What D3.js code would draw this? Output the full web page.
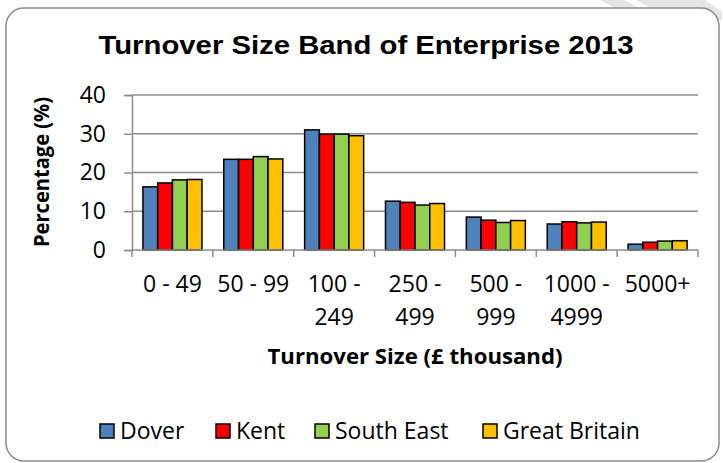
<!DOCTYPE html>
<html><head><meta charset="utf-8">
<script src="https://cdn.jsdelivr.net/npm/d3@7"></script>
<style>body{margin:0;background:#fff;overflow:hidden}</style></head>
<body><svg id="c" width="723" height="463"></svg>
<script>
const categories = ["0 - 49","50 - 99","100 - 249","250 - 499","500 - 999","1000 - 4999","5000+"];
const seriesNames = ["Dover","Kent","South East","Great Britain"];
const dover = [16.3, 23.4, 31.0, 12.6, 8.5, 6.7, 1.5];
const kent = [17.3, 23.4, 29.9, 12.3, 7.7, 7.3, 2.0];
const southEast = [18.1, 24.1, 29.9, 11.6, 7.1, 7.0, 2.3];
const greatBritain = [18.2, 23.5, 29.5, 12.0, 7.6, 7.2, 2.4];
const yTicks = [0, 10, 20, 30, 40];
const colors = ["#4F81BD","#FF0000","#92D050","#FFC000"];
const seriesValues = [dover, kent, southEast, greatBritain];

const svg = d3.select("#c");
const font = "'Open Sans', sans-serif";

// background decoration stripes
svg.append("path").attr("d","M600,0 L624,0 L650,14 L626,14 Z").attr("fill","#e4e4e4");
svg.append("path").attr("d","M636,0 L705,0 L722,12 L722,20 L660,14 Z").attr("fill","#e4e4e4");

// frame
svg.append("rect").attr("x",6).attr("y",8).attr("width",713).attr("height",453)
  .attr("rx",18).attr("fill","#fff").attr("stroke","#8c8c8c").attr("stroke-width",1.5);

const x = d3.scaleBand().domain(categories).range([132, 698]).paddingInner(0.27).paddingOuter(0.135);
const x1 = d3.scaleBand().domain(seriesNames).range([0, x.bandwidth()]);
const y = d3.scaleLinear().domain([0, 40]).range([250, 95]);

// gridlines
svg.append("g").selectAll("line").data(yTicks.filter(d=>d>0)).join("line")
  .attr("x1",132).attr("x2",698).attr("y1",d=>y(d)).attr("y2",d=>y(d))
  .attr("stroke","#8c8c8c").attr("stroke-width",1.5);

// y axis
const yAxis = svg.append("g").attr("transform","translate(132,0)")
  .call(d3.axisLeft(y).tickValues(yTicks).tickSize(8).tickPadding(18));
yAxis.select(".domain").attr("stroke","#8c8c8c").attr("stroke-width",1.5);
yAxis.selectAll(".tick line").attr("stroke","#8c8c8c").attr("stroke-width",1.5);
yAxis.selectAll("text").attr("font-family",font).attr("font-size",23).attr("fill","#000");

// bars
seriesValues.forEach((vals, si) => {
  svg.append("g").selectAll("rect").data(vals).join("rect")
    .attr("x",(d,i)=>x(categories[i]) + x1(seriesNames[si]))
    .attr("y",d=>y(d)).attr("width",x1.bandwidth()).attr("height",d=>y(0)-y(d))
    .attr("fill",colors[si]).attr("stroke","#000").attr("stroke-width",1.5);
});

// x axis
const xg = svg.append("g");
xg.append("line").attr("x1",132).attr("x2",698).attr("y1",y(0)).attr("y2",y(0))
  .attr("stroke","#8c8c8c").attr("stroke-width",1.5);
const bounds = d3.range(categories.length+1).map(i => x.range()[0] + i*x.step());
xg.selectAll("line.tk").data(bounds).join("line").attr("class","tk")
  .attr("x1",d=>d).attr("x2",d=>d).attr("y1",y(0)).attr("y2",y(0)+7)
  .attr("stroke","#8c8c8c").attr("stroke-width",1.5);
const lbl = xg.selectAll("text.lb").data(categories).join("text").attr("class","lb")
  .attr("text-anchor","middle").attr("font-family",font).attr("font-size",23).attr("fill","#000");
lbl.each(function(d){
  const parts = d.length > 7 ? [d.slice(0, d.indexOf("-")+1), d.slice(d.indexOf("-")+2)] : [d];
  const t = d3.select(this);
  parts.forEach((p,k)=>{
    t.append("tspan").attr("x", x(d)+x.bandwidth()/2).attr("y", 292 + k*33).text(p);
  });
});

// titles
svg.append("text").attr("x",366).attr("y",54).attr("text-anchor","middle")
  .attr("font-family","'Liberation Sans', Arial, sans-serif").attr("font-weight","bold")
  .attr("font-size",26.5).attr("textLength",535).attr("lengthAdjust","spacingAndGlyphs")
  .text("Turnover Size Band of Enterprise 2013");
svg.append("text").attr("x",415).attr("y",364).attr("text-anchor","middle")
  .attr("font-family",font).attr("font-weight","bold").attr("font-size",22)
  .attr("textLength",295).attr("lengthAdjust","spacingAndGlyphs")
  .text("Turnover Size (£ thousand)");
svg.append("text").attr("transform","translate(49,172) rotate(-90)").attr("text-anchor","middle")
  .attr("font-family",font).attr("font-weight","bold").attr("font-size",21)
  .attr("textLength",150).attr("lengthAdjust","spacingAndGlyphs")
  .text("Percentage (%)");

// legend
const leg = svg.append("g");
const legX = [100, 216, 315, 483];
seriesNames.forEach((n,i)=>{
  leg.append("rect").attr("x",legX[i]).attr("y",424).attr("width",14).attr("height",14)
    .attr("fill",colors[i]).attr("stroke","#000").attr("stroke-width",1.5);
  leg.append("text").attr("x",legX[i]+20).attr("y",439).attr("font-family",font)
    .attr("font-size",23).text(n);
});
</script></body></html>
